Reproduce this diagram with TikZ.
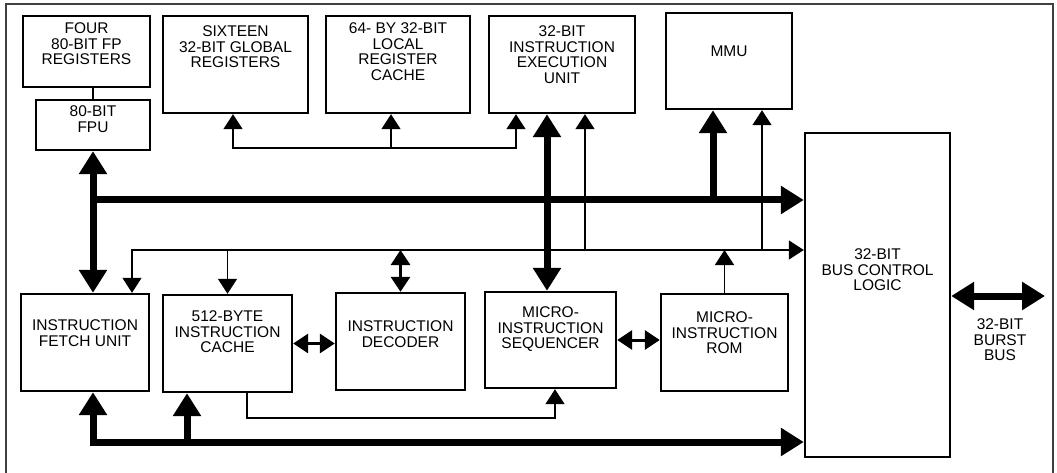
\documentclass[tikz,border=0pt]{standalone}
\usepackage{fontspec}
\setmainfont{Liberation Sans}
\usetikzlibrary{arrows.meta,positioning}

\begin{document}
\begin{tikzpicture}[x=1pt,y=-1pt,
    blk/.style={draw,line width=2.4pt,inner sep=0pt},
    txt/.style={align=center,inner sep=0pt,font=\fontsize{15.5}{15.7}\selectfont},
    thin/.style={line width=1.5pt},
    mid/.style={line width=3pt},
    fat/.style={line width=7pt},
    tip/.style={-{Triangle[width=19pt,length=15pt]}},
    dbl/.style={{Triangle[width=19pt,length=15pt]}-{Triangle[width=19pt,length=15pt]}},
    bigtip/.style={-{Triangle[width=27pt,length=23pt]}},
    bigdbl/.style={{Triangle[width=27pt,length=23pt]}-{Triangle[width=27pt,length=23pt]}}]

    \useasboundingbox (0,0) rectangle (1057,473);

    % frame
    \draw[line width=1.3pt,black!75] (6,473) -- (6,4) -- (1053,4) -- (1053,473);

    % blocks
    \node[blk,minimum width=127pt,minimum height=71pt] (fpregs) at (86.5,51.5) {};
    \node[blk,minimum width=114pt,minimum height=50pt] (fpu) at (93,125) {};
    \node[blk,minimum width=145pt,minimum height=97pt] (globregs) at (235.5,64.5) {};
    \node[blk,minimum width=144pt,minimum height=97pt] (localregs) at (398,64.5) {};
    \node[blk,minimum width=146pt,minimum height=97pt] (ieu) at (562,64.5) {};
    \node[blk,minimum width=126pt,minimum height=96pt] (mmu) at (729,61) {};
    \node[blk,minimum width=145pt,minimum height=324pt] (buslogic) at (877.5,295) {};
    \node[blk,minimum width=128pt,minimum height=97pt] (fetch) at (85,342.5) {};
    \node[blk,minimum width=129pt,minimum height=97pt] (icache) at (227.5,343.5) {};
    \node[blk,minimum width=129pt,minimum height=97pt] (decoder) at (400.5,341.5) {};
    \node[blk,minimum width=131pt,minimum height=96pt] (sequencer) at (550.5,340) {};
    \node[blk,minimum width=127pt,minimum height=97pt] (ucrom) at (724.5,342.5) {};

    % labels
    \node[txt,below=7.5pt of fpregs.north] {FOUR\\80-BIT FP\\REGISTERS};
    \node[txt,below=6.5pt of fpu.north] {80-BIT\\FPU};
    \node[txt,below=10.5pt of globregs.north] {SIXTEEN\\32-BIT GLOBAL\\REGISTERS};
    \node[txt,below=7.5pt of localregs.north] {64- BY 32-BIT\\LOCAL\\REGISTER\\CACHE};
    \node[txt,below=10.5pt of ieu.north] {32-BIT\\INSTRUCTION\\EXECUTION\\UNIT};
    \node[txt,below=33.5pt of mmu.north] {MMU};
    \node[txt,below=116.5pt of buslogic.north] {32-BIT\\BUS CONTROL\\LOGIC};
    \node[txt,below=26.5pt of fetch.north] {INSTRUCTION\\FETCH UNIT};
    \node[txt,below=16.5pt of icache.north] {512-BYTE\\INSTRUCTION\\CACHE};
    \node[txt,below=28.5pt of decoder.north] {INSTRUCTION\\DECODER};
    \node[txt,below=15.5pt of sequencer.north] {MICRO-\\INSTRUCTION\\SEQUENCER};
    \node[txt,below=18.5pt of ucrom.north] {MICRO-\\INSTRUCTION\\ROM};

    % bus points
    \coordinate (topbus) at (93,200);
    \coordinate (ctlbus) at (132,250);
    \coordinate (membus) at (93,442);
    \coordinate (burstend) at (1045,296);
    \node[txt,anchor=north] (burstlbl) at (1000,318.5) {32-BIT\\BURST\\BUS};

    % fpu side
    \draw[thin] (fpu.north) -- (fpu.north |- fpregs.south);
    \draw[fat,bigdbl] (fpu.south) -- (fpu.south |- fetch.north);
    \draw[fat,bigtip] (topbus) -- (topbus -| buslogic.west);
    \draw[fat,bigtip] ([xshift=-16pt]mmu.south |- topbus) -- ([xshift=-16pt]mmu.south);
    \draw[fat,bigdbl] ([xshift=-15pt]ieu.south) -- ([xshift=-15pt]ieu.south |- sequencer.north);

    % register lines
    \draw[thin,dbl] ([xshift=-2.5pt]globregs.south) -- ++(0,34) -| ([xshift=-46pt]ieu.south);
    \draw[thin,tip] ([xshift=-7pt]localregs.south) ++(0,34) -- ([xshift=-7pt]localregs.south);

    % control bus
    \draw[thin,dbl] (ctlbus |- fetch.north) -- (ctlbus) -- (ctlbus -| buslogic.west);
    \draw[thin,tip] (icache.north |- ctlbus) -- (icache.north);
    \draw[mid,dbl] (decoder.north |- ctlbus) -- (decoder.north);
    \draw[thin,tip] ([xshift=23pt]ieu.south |- ctlbus) -- ([xshift=23pt]ieu.south);
    \draw[thin,tip] ([xshift=33pt]mmu.south |- ctlbus) -- ([xshift=33pt]mmu.south);
    \draw[thin,tip] (ucrom.north) -- (ucrom.north |- ctlbus);

    % side links
    \draw[mid,dbl] (icache.east) -- (icache.east -| decoder.west);
    \draw[mid,dbl] (sequencer.east) -- (sequencer.east -| ucrom.west);
    \draw[thin,tip] ([xshift=19.5pt]icache.south) -- ++(0,25) -| ([xshift=4.5pt]sequencer.south);

    % memory bus
    \draw[fat,bigdbl] ([xshift=8pt]fetch.south) |- (membus -| buslogic.west);
    \draw[fat,bigtip] ([xshift=-40.5pt]icache.south |- membus) -- ([xshift=-40.5pt]icache.south);
    \draw[fat,bigdbl] (buslogic.east |- burstend) -- (burstend);

\end{tikzpicture}
\end{document}
